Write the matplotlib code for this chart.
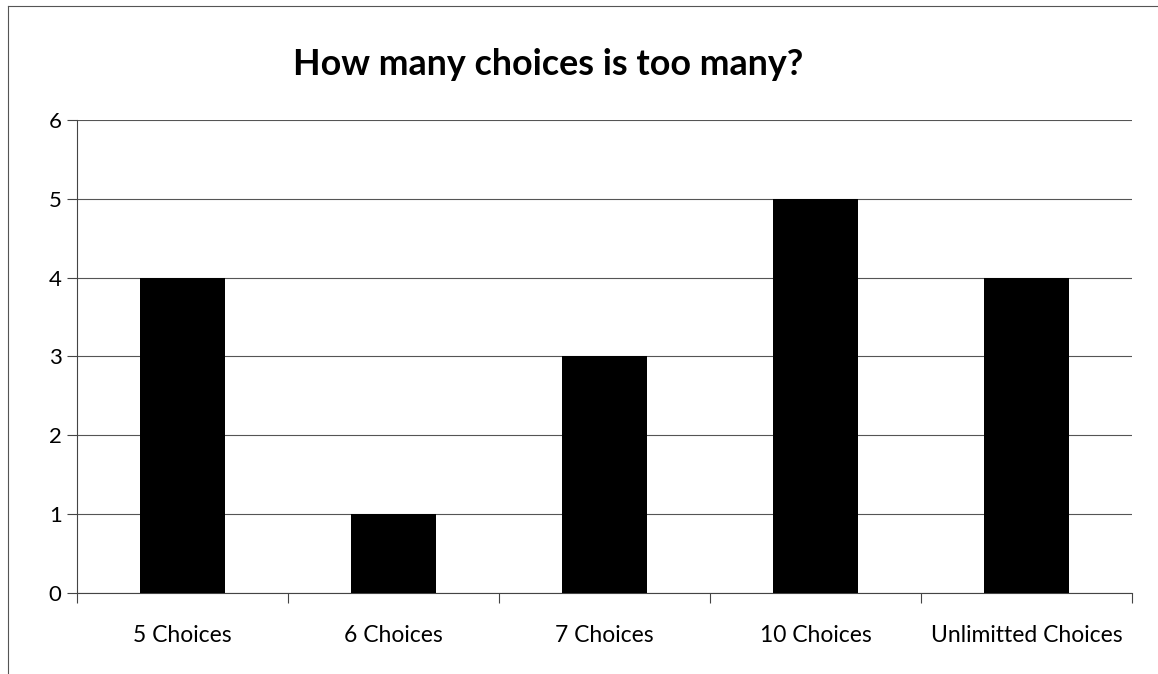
import matplotlib.pyplot as plt
from matplotlib.lines import Line2D

# values
categories = ["5 Choices", "6 Choices", "7 Choices", "10 Choices", "Unlimitted Choices"]
counts = [4, 1, 3, 5, 4]
y_ticks = [0, 1, 2, 3, 4, 5, 6]

plt.rcParams['font.family'] = ['Lato', 'DejaVu Sans']

fig = plt.figure(figsize=(11.58, 6.74), dpi=100)
ax = fig.add_axes([0.0665, 0.1202, 0.9110, 0.7018])

positions = range(len(categories))
ax.bar(positions, counts, width=0.4, color="black", zorder=3)

ax.set_xlim(-0.5, len(categories) - 0.5)
ax.set_ylim(0, 6)
ax.set_yticks(y_ticks)
ax.tick_params(axis="y", length=7, width=0.8, color="#444444", labelsize=16, pad=4)

# category labels sit between the boundary ticks
ax.set_xticks([p - 0.5 for p in range(len(categories) + 1)])
ax.set_xticklabels([])
ax.set_xticks(list(positions), minor=True)
ax.set_xticklabels(categories, minor=True, fontsize=16.5)
ax.tick_params(axis="x", which="major", length=7, width=0.8, color="#444444")
ax.tick_params(axis="x", which="minor", length=0, pad=23)

ax.grid(axis="y", color="#555555", linewidth=0.8, zorder=0)
for side in ["top", "right"]:
    ax.spines[side].set_visible(False)
for side in ["left", "bottom"]:
    ax.spines[side].set_color("#444444")
    ax.spines[side].set_linewidth(0.8)

fig.text(0.473, 0.904, "How many choices is too many?", ha="center", va="center",
         fontsize=25.8, fontweight="bold")

# scanned chart frame: only the left and top edges show
fig.add_artist(Line2D([0.007, 0.007], [0.0, 0.991], color="#555555", linewidth=0.8))
fig.add_artist(Line2D([0.007, 1.0], [0.991, 0.991], color="#555555", linewidth=0.8))

fig.savefig("out.png", dpi=100)
